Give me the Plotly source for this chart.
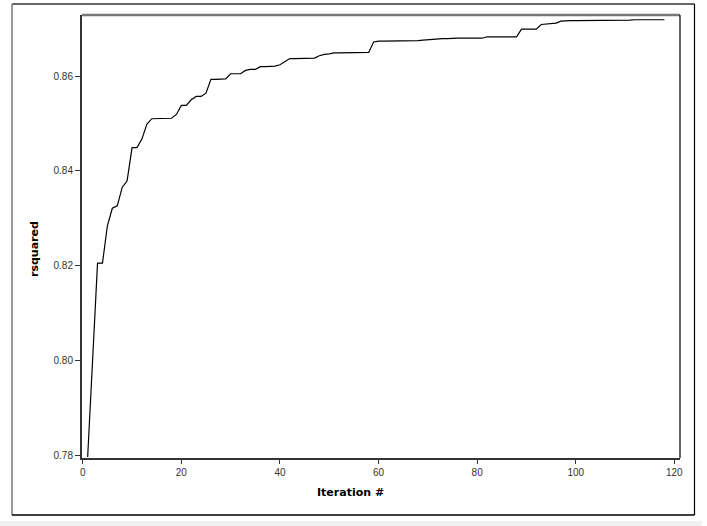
import plotly.graph_objects as go

iterations = list(range(1, 119))
rsquared = [
    0.7796, 0.8000, 0.8205, 0.8205, 0.8284, 0.8321, 0.8326, 0.8365, 0.8379, 0.8449,
    0.8449, 0.8467, 0.8498, 0.8510, 0.8510, 0.8510, 0.8511, 0.8511, 0.8519, 0.8538,
    0.8538, 0.8550, 0.8557, 0.8557, 0.8564, 0.8593, 0.8593, 0.8593, 0.8594, 0.8605,
    0.8605, 0.8605, 0.8612, 0.8614, 0.8614, 0.8620, 0.8620, 0.8621, 0.8621, 0.8624,
    0.8630, 0.8637, 0.8637, 0.8637, 0.8638, 0.8638, 0.8638, 0.8643, 0.8646, 0.8647,
    0.8649, 0.8649, 0.8649, 0.8649, 0.8649, 0.8650, 0.8650, 0.8650, 0.8672, 0.8674,
    0.8674, 0.8674, 0.8674, 0.8675, 0.8675, 0.8675, 0.8675, 0.8675, 0.8676, 0.8677,
    0.8678, 0.8679, 0.8679, 0.8679, 0.8680, 0.8680, 0.8680, 0.8680, 0.8680, 0.8680,
    0.8680, 0.8683, 0.8683, 0.8683, 0.8683, 0.8683, 0.8683, 0.8683, 0.8699, 0.8699,
    0.8699, 0.8699, 0.8709, 0.8710, 0.8711, 0.8712, 0.8716, 0.8717, 0.8717, 0.8717,
    0.8717, 0.8717, 0.8717, 0.8718, 0.8718, 0.8718, 0.8718, 0.8718, 0.8718, 0.8718,
    0.8718, 0.8719, 0.8719, 0.8719, 0.8719, 0.8719, 0.8719, 0.8719,
]
x_ticks = [0, 20, 40, 60, 80, 100, 120]
y_ticks = [0.78, 0.80, 0.82, 0.84, 0.86]
y_tick_labels = ["0.78", "0.80", "0.82", "0.84", "0.86"]

W, H = 707, 526
L, R, T, B = 82, 27, 15, 68
pw, ph = W - L - R, H - T - B


def px(xp):
    return (xp - L) / pw


def py(yp):
    return (H - B - yp) / ph


fig = go.Figure()
fig.add_trace(go.Scatter(
    x=iterations, y=rsquared, mode="lines",
    line=dict(color="black", width=1.2), showlegend=False, cliponaxis=True,
    hoverinfo="skip",
))

tickfont = dict(family="Liberation Sans, Arial, sans-serif", size=10, color="#333")
fig.update_layout(
    width=W, height=H,
    margin=dict(l=L, r=R, t=T, b=B, pad=0),
    paper_bgcolor="white", plot_bgcolor="white",
    xaxis=dict(
        range=[-0.15, 121.15], tickvals=x_ticks, ticktext=[str(v) for v in x_ticks],
        showgrid=False, zeroline=False, showline=True, linecolor="#333", linewidth=2,
        ticks="outside", ticklen=4, tickcolor="#333", tickwidth=1, tickfont=tickfont,
    ),
    yaxis=dict(
        range=[0.77937, 0.8729], tickvals=y_ticks, ticktext=y_tick_labels,
        showgrid=False, zeroline=False, showline=True, linecolor="#333", linewidth=2,
        ticks="outside", ticklen=5, tickcolor="#333", tickwidth=1, tickfont=tickfont,
    ),
)

# plot-area top and right borders
fig.add_shape(type="line", xref="paper", yref="paper", x0=0, x1=1, y0=1, y1=1,
              line=dict(color="#777", width=2.5))
fig.add_shape(type="line", xref="paper", yref="paper", x0=1, x1=1, y0=0, y1=1,
              line=dict(color="black", width=1.2))

# outer frame
fl, fr, ft, fb = px(12), px(694.5), py(4), py(515)
fig.add_shape(type="line", xref="paper", yref="paper", x0=fl, x1=fr, y0=ft, y1=ft,
              line=dict(color="#333", width=1.5))
fig.add_shape(type="line", xref="paper", yref="paper", x0=fl, x1=fl, y0=fb, y1=ft,
              line=dict(color="#777", width=1.5))
fig.add_shape(type="line", xref="paper", yref="paper", x0=fr, x1=fr, y0=fb, y1=ft,
              line=dict(color="black", width=1.2))
fig.add_shape(type="line", xref="paper", yref="paper", x0=fl, x1=fr, y0=fb, y1=fb,
              line=dict(color="black", width=1.5))
# light strip at bottom
fig.add_shape(type="rect", xref="paper", yref="paper", x0=px(0), x1=px(702),
              y0=py(526), y1=py(521), line=dict(width=0), fillcolor="#f0f0f0")

titlefont = dict(family="DejaVu Sans, Verdana, sans-serif", size=11, color="black")
fig.add_annotation(text="<b>Iteration #</b>", xref="paper", yref="paper",
                   x=px(350), y=py(492), showarrow=False, font=titlefont,
                   xanchor="center", yanchor="middle")
fig.add_annotation(text="<b>rsquared</b>", xref="paper", yref="paper",
                   x=px(34), y=py(249), showarrow=False, font=titlefont,
                   textangle=-90, xanchor="center", yanchor="middle")

fig.write_html(
    "out.html",
    config={"displayModeBar": False, "staticPlot": True},
    post_script="document.body.style.margin='0';document.body.style.overflow='hidden';",
)
